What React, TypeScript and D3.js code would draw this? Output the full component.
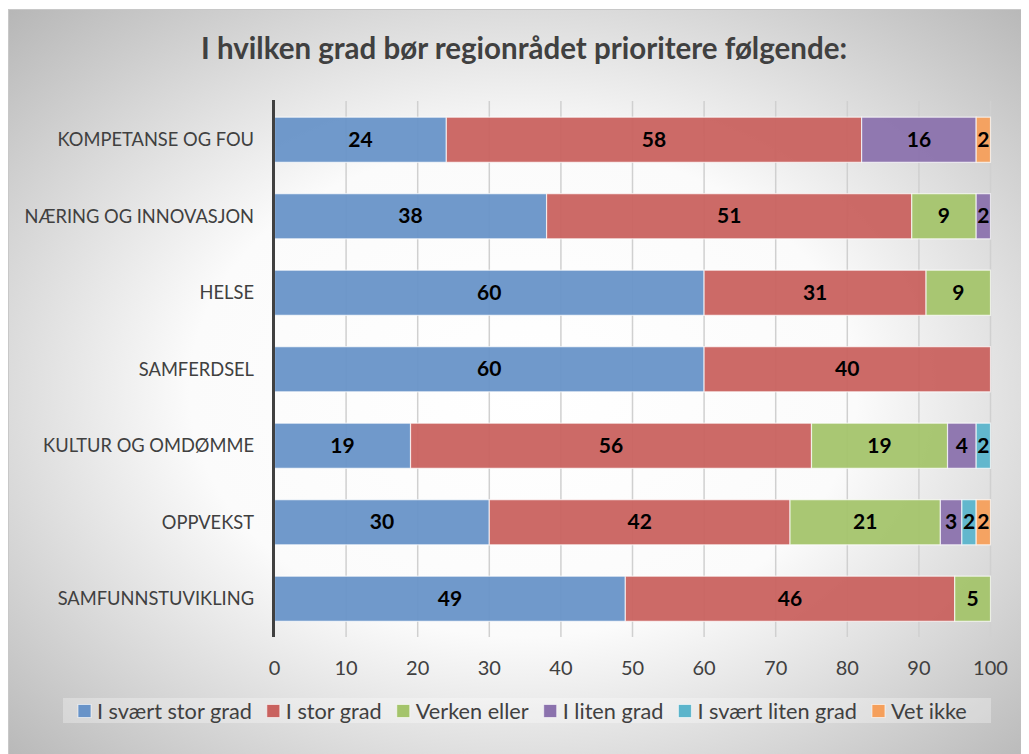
import * as React from 'react';
import {useEffect, useRef} from 'react';
import * as d3 from 'd3';

const categories = [
  'KOMPETANSE OG FOU',
  'NÆRING OG INNOVASJON',
  'HELSE',
  'SAMFERDSEL',
  'KULTUR OG OMDØMME',
  'OPPVEKST',
  'SAMFUNNSTUVIKLING'
];
const series = ['I svært stor grad', 'I stor grad', 'Verken eller', 'I liten grad', 'I svært liten grad', 'Vet ikke'];
const colors = ['#6893c8', '#c9625f', '#a4c46b', '#8b72ad', '#5bb4cb', '#f59f5b'];

const sværtStor = [24, 38, 60, 60, 19, 30, 49];
const stor = [58, 51, 31, 40, 56, 42, 46];
const verken = [0, 9, 9, 0, 19, 21, 5];
const liten = [16, 2, 0, 0, 4, 3, 0];
const sværtLiten = [0, 0, 0, 0, 2, 2, 0];
const vetIkke = [2, 0, 0, 0, 0, 2, 0];
const ticks = [0, 10, 20, 30, 40, 50, 60, 70, 80, 90, 100];

const font = 'Lato, "Open Sans", sans-serif';

export default function App() {
  const ref = useRef<SVGSVGElement>(null);

  useEffect(() => {
    const svg = d3.select(ref.current);
    svg.selectAll('*').remove();

    const defs = svg.append('defs');
    const grad = defs.append('radialGradient')
      .attr('id', 'bg')
      .attr('cx', '50%').attr('cy', '50%').attr('r', '72%');
    grad.append('stop').attr('offset', '0%').attr('stop-color', '#ffffff');
    grad.append('stop').attr('offset', '45%').attr('stop-color', '#fbfbfb');
    grad.append('stop').attr('offset', '100%').attr('stop-color', '#b4b4b4');

    // work in page coordinates
    const root = svg.append('g').attr('transform', 'translate(-8,-8)');

    root.append('rect')
      .attr('x', 8.5).attr('y', 9.5)
      .attr('width', 1030).attr('height', 760)
      .attr('fill', 'url(#bg)')
      .attr('stroke', '#c8c8c8');

    root.append('text')
      .attr('x', 524).attr('y', 59)
      .attr('text-anchor', 'middle')
      .style('font', `bold 29.5px ${font}`)
      .attr('fill', '#404040')
      .text('I hvilken grad bør regionrådet prioritere følgende:');

    const x = d3.scaleLinear().domain([0, 100]).range([274.5, 990.5]);
    const y = d3.scaleBand().domain(categories).range([101.5, 637]).paddingInner(0.41).paddingOuter(0.205);

    // gridlines
    root.append('g')
      .selectAll('line')
      .data(ticks.slice(1))
      .join('line')
      .attr('x1', d => x(d)).attr('x2', d => x(d))
      .attr('y1', 101).attr('y2', 637)
      .attr('stroke', '#d0d0d0')
      .attr('stroke-width', 1.5);

    const table = [sværtStor, stor, verken, liten, sværtLiten, vetIkke];
    const rows = categories.map((c, i) => {
      const r: any = {cat: c};
      series.forEach((s, j) => { r[s] = table[j][i]; });
      return r;
    });
    const stacked = d3.stack().keys(series)(rows);

    const layers = root.append('g')
      .selectAll('g')
      .data(stacked)
      .join('g')
      .attr('fill', (_, i) => colors[i]);

    layers.selectAll('rect')
      .data(d => d.filter(p => p[1] - p[0] > 0))
      .join('rect')
      .attr('x', d => x(d[0]))
      .attr('y', d => y((d.data as any).cat)!)
      .attr('width', d => x(d[1]) - x(d[0]))
      .attr('height', y.bandwidth())
      .attr('fill-opacity', 0.95)
      .attr('stroke', '#ffffff')
      .attr('stroke-opacity', 0.7)
      .attr('stroke-width', 1.2);

    layers.selectAll('text')
      .data(d => d.filter(p => p[1] - p[0] > 0))
      .join('text')
      .attr('x', d => (x(d[0]) + x(d[1])) / 2)
      .attr('y', d => y((d.data as any).cat)! + y.bandwidth() / 2)
      .attr('dy', '0.34em')
      .attr('text-anchor', 'middle')
      .style('font', `bold 21px ${font}`)
      .attr('fill', '#000000')
      .text(d => d[1] - d[0]);

    // axis line
    root.append('line')
      .attr('x1', 273.5).attr('x2', 273.5)
      .attr('y1', 100).attr('y2', 637)
      .attr('stroke', '#404040')
      .attr('stroke-width', 3);

    // category labels
    root.append('g')
      .selectAll('text')
      .data(categories)
      .join('text')
      .attr('x', 254)
      .attr('y', d => y(d)! + y.bandwidth() / 2)
      .attr('dy', '0.36em')
      .attr('text-anchor', 'end')
      .style('font', `18.3px ${font}`)
      .attr('fill', '#404040')
      .text(d => d);

    // tick labels
    root.append('g')
      .selectAll('text')
      .data(ticks)
      .join('text')
      .attr('x', d => x(d))
      .attr('y', 668)
      .attr('dy', '0.36em')
      .attr('text-anchor', 'middle')
      .style('font', `20px ${font}`)
      .attr('fill', '#404040')
      .text(d => d);

    // legend
    root.append('rect')
      .attr('x', 63).attr('y', 698).attr('width', 928).attr('height', 25)
      .attr('fill', '#ffffff').attr('fill-opacity', 0.3);

    const legend = root.append('g');
    const items = legend.selectAll('g')
      .data(series)
      .join('g');
    items.append('rect')
      .attr('x', 0).attr('y', -6.5)
      .attr('width', 13).attr('height', 13)
      .attr('fill', (_, i) => colors[i])
      .attr('stroke', '#ffffff').attr('stroke-opacity', 0.6);
    const labels = items.append('text')
      .attr('x', 19)
      .attr('dy', '0.36em')
      .style('font', `21.7px ${font}`)
      .attr('fill', '#404040')
      .text(d => d);

    const widths: number[] = [];
    labels.each(function() { widths.push(19 + (this as SVGTextElement).getComputedTextLength()); });
    const gap = 15;
    let cx = 78;
    items.attr('transform', (_, i) => {
      const t = `translate(${cx},711)`;
      cx += widths[i] + gap;
      return t;
    });
  }, []);

  return <svg ref={ref} width={1021} height={746} style={{display: 'block'}} />;
}
